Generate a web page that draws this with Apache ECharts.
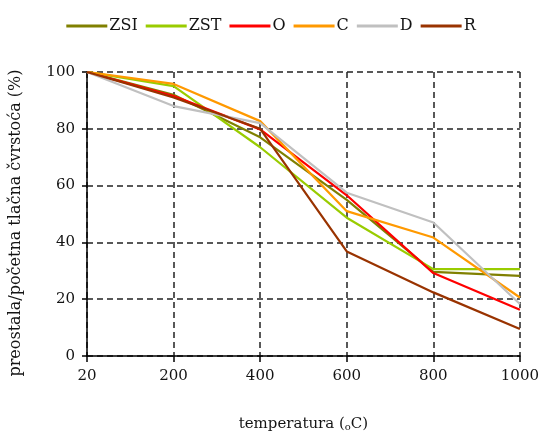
<!DOCTYPE html>
<html>
<head>
<meta charset="utf-8">
<script src="https://cdn.jsdelivr.net/npm/echarts@6/dist/echarts.min.js"></script>
<style>
  html, body { margin: 0; padding: 0; background: #fff; }
  #chart { width: 542px; height: 437px; }
</style>
</head>
<body>
<div id="chart"></div>
<script>
// temperature categories
const temps = ["20", "200", "400", "600", "800", "1000"];
const yTicks = [0, 20, 40, 60, 80, 100];

// residual / initial compressive strength (%)
const zsi = [100, 92, 77, 55, 29.6, 28.2];
const zst = [100, 95, 73.5, 48.7, 30.6, 30.6];
const oSeries = [100, 91.5, 79.8, 56.6, 29.2, 16.3];
const cSeries = [100, 95.8, 82.7, 51, 41.7, 20.6];
const dSeries = [100, 88, 82, 57.5, 47, 18.3];
const rSeries = [100, 91, 80, 36.8, 22.4, 9.5];

const names = ["ZSI", "ZST", "O", "C", "D", "R"];
const colors = ["#808000", "#99cc00", "#ff0000", "#ff9900", "#c0c0c0", "#993300"];
const values = [zsi, zst, oSeries, cSeries, dSeries, rSeries];

const font = "DejaVu Serif";
const txt = "#141414";
const chart = echarts.init(document.getElementById("chart"));

chart.setOption({
    backgroundColor: "#fff",
    animation: false,
    color: colors,
    textStyle: { fontFamily: font },
    legend: {
        top: 13,
        left: "center",
        itemWidth: 41,
        itemHeight: 3,
        itemGap: 8,
        icon: "rect",
        textStyle: { fontFamily: font, fontSize: 16, color: txt, padding: [0, 0, 0, -3] },
        data: names
    },
    grid: {
        left: 86,
        right: 21,
        top: 72,
        bottom: 80
    },
    xAxis: {
        type: "category",
        boundaryGap: false,
        data: temps,
        name: "temperatura ({s|o}C)",
        nameLocation: "middle",
        nameGap: 60,
        nameTextStyle: {
            fontFamily: font,
            fontSize: 15,
            color: txt,
            rich: {
                s: { fontFamily: font, fontSize: 10, color: txt, padding: [6, 0, 0, 0] }
            }
        },
        axisLine: { lineStyle: { color: "#000", width: 1.5 } },
        axisTick: { show: true, length: 6, lineStyle: { color: "#000", width: 1.5 } },
        axisLabel: { fontFamily: font, fontSize: 15, color: txt, margin: 13 },
        splitLine: {
            show: true,
            lineStyle: { color: "#222", width: 1.5, type: [6, 4] }
        }
    },
    yAxis: {
        type: "value",
        min: 0,
        max: 100,
        interval: 20,
        name: "preostala/početna tlačna čvrstoća (%)",
        nameLocation: "middle",
        nameGap: 63,
        nameTextStyle: { fontFamily: font, fontSize: 16, color: txt, padding: [0, 18, 0, 0] },
        axisLine: { show: true, lineStyle: { color: "#000", width: 1.5 } },
        axisTick: { show: true, length: 5, lineStyle: { color: "#000", width: 1.5 } },
        axisLabel: {
            fontFamily: font, fontSize: 15, color: txt, margin: 12,
            formatter: function (v) { return yTicks.indexOf(v) >= 0 ? String(v) : ""; }
        },
        splitLine: {
            show: true,
            lineStyle: { color: "#222", width: 1.5, type: [6, 4] }
        }
    },
    series: names.map(function (n, i) {
        return {
            name: n,
            type: "line",
            data: values[i],
            symbol: "none",
            lineStyle: { width: 2.2, color: colors[i] },
            itemStyle: { color: colors[i] }
        };
    })
});
</script>
</body>
</html>
